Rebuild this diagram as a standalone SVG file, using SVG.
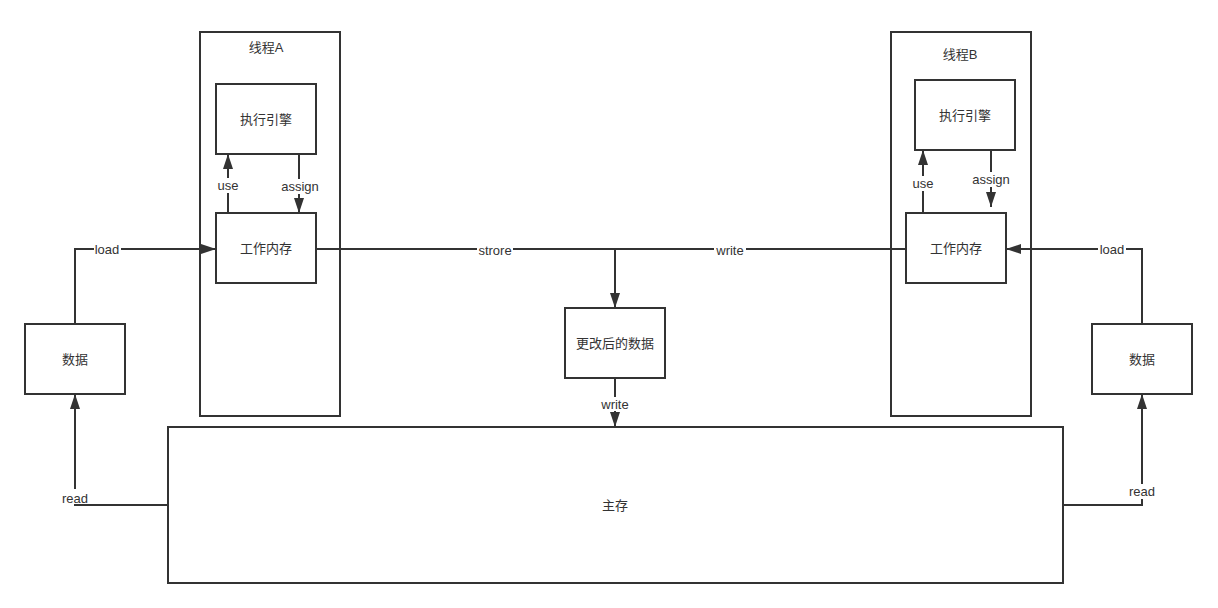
<svg xmlns="http://www.w3.org/2000/svg" width="1218" height="608" viewBox="0 0 1218 608">
<style>
.box{fill:#fff;stroke:#333;stroke-width:2}
.t{font-family:"Liberation Sans","Noto Sans CJK SC",sans-serif;font-size:13px;fill:#333;text-anchor:middle;dominant-baseline:central}
.e{fill:none;stroke:#333;stroke-width:2}
.bg{fill:#fff}
</style>
<defs>
<marker id="ar" markerUnits="userSpaceOnUse" markerWidth="16" markerHeight="12" refX="15" refY="5" orient="auto" viewBox="0 0 16 12">
<path d="M0,0 L15,5 L0,10 z" fill="#333"/>
</marker>
</defs>
<rect width="1218" height="608" fill="#fff"/>
<g id="threadA"><rect class="box" x="200" y="32" width="140" height="384"/><text class="t" x="266" y="47">线程A</text></g>
<g id="threadB"><rect class="box" x="891" y="32" width="140" height="384"/><text class="t" x="960" y="54">线程B</text></g>
<g id="mainMem"><rect class="box" x="168" y="427" width="895" height="156"/><text class="t" x="615" y="505">主存</text></g>
<g id="engineA"><rect class="box" x="216" y="84" width="100" height="70"/><text class="t" x="266" y="119">执行引擎</text></g>
<g id="workA"><rect class="box" x="216" y="213" width="100" height="70"/><text class="t" x="266" y="248">工作内存</text></g>
<g id="engineB"><rect class="box" x="915" y="80" width="100" height="70"/><text class="t" x="965" y="115">执行引擎</text></g>
<g id="workB"><rect class="box" x="906" y="213" width="100" height="70"/><text class="t" x="956" y="248">工作内存</text></g>
<g id="dataA"><rect class="box" x="25" y="324" width="100" height="70"/><text class="t" x="75" y="359">数据</text></g>
<g id="dataB"><rect class="box" x="1092" y="324" width="100" height="70"/><text class="t" x="1142" y="359">数据</text></g>
<g id="changed"><rect class="box" x="565" y="308" width="100" height="70"/><text class="t" x="615" y="343">更改后的数据</text></g>
<g id="connectors">
<path class="e" d="M75,324 L75,249 L216,249" marker-end="url(#ar)"/>
<path class="e" d="M228,213 L228,154" marker-end="url(#ar)"/>
<path class="e" d="M299,154 L299,213" marker-end="url(#ar)"/>
<path class="e" d="M316,249 L906,249"/>
<path class="e" d="M615,249 L615,308" marker-end="url(#ar)"/>
<path class="e" d="M615,378 L615,427" marker-end="url(#ar)"/>
<path class="e" d="M923,213 L923,150" marker-end="url(#ar)"/>
<path class="e" d="M991,150 L991,207" marker-end="url(#ar)"/>
<path class="e" d="M1142,324 L1142,249 L1006,249" marker-end="url(#ar)"/>
<path class="e" d="M168,505 L75,505 L75,394" marker-end="url(#ar)"/>
<path class="e" d="M1063,505 L1142,505 L1142,394" marker-end="url(#ar)"/>
<rect class="bg" x="94" y="242" width="27" height="14"/><text class="t" x="107" y="249">load</text>
<rect class="bg" x="1098" y="242" width="28" height="14"/><text class="t" x="1112" y="249">load</text>
<rect class="bg" x="216" y="178" width="24" height="15"/><text class="t" x="228" y="185">use</text>
<rect class="bg" x="280" y="179" width="40" height="15"/><text class="t" x="300" y="186">assign</text>
<rect class="bg" x="911" y="176" width="24" height="15"/><text class="t" x="923" y="183">use</text>
<rect class="bg" x="971" y="172" width="40" height="15"/><text class="t" x="991" y="179">assign</text>
<rect class="bg" x="477" y="242" width="36" height="14"/><text class="t" x="495" y="250">strore</text>
<rect class="bg" x="714" y="242" width="32" height="14"/><text class="t" x="730" y="250">write</text>
<rect class="bg" x="599" y="397" width="32" height="14"/><text class="t" x="615" y="404">write</text>
<rect class="bg" x="60" y="489" width="30" height="15"/><text class="t" x="75" y="498">read</text>
<rect class="bg" x="1127" y="484" width="30" height="15"/><text class="t" x="1142" y="491">read</text>
</g>
</svg>
